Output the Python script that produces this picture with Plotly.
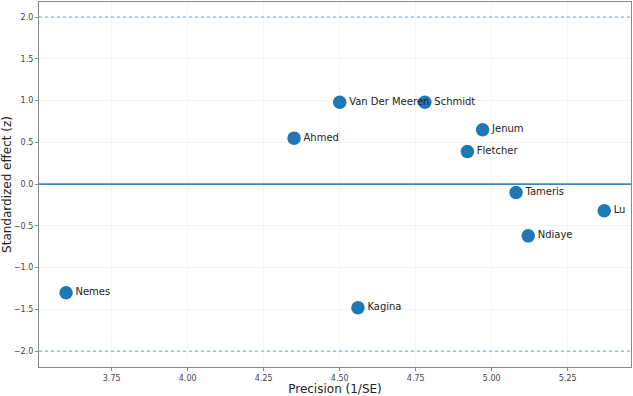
import plotly.graph_objects as go

studies = ["Nemes", "Ahmed", "Van Der Meeren", "Schmidt", "Jenum", "Fletcher",
           "Tameris", "Lu", "Ndiaye", "Kagina"]
precision = [3.60, 4.35, 4.50, 4.78, 4.97, 4.92, 5.08, 5.37, 5.12, 4.56]
z_effect = [-1.30, 0.55, 0.98, 0.98, 0.65, 0.39, -0.10, -0.32, -0.62, -1.48]
x_ticks = [3.75, 4.00, 4.25, 4.50, 4.75, 5.00, 5.25]
y_ticks = [-2.0, -1.5, -1.0, -0.5, 0.0, 0.5, 1.0, 1.5, 2.0]
x_range = [3.511, 5.458]
y_range = [-2.19, 2.18]

fig = go.Figure()
fig.add_hline(y=0, line=dict(color="#3a88c9", width=1.8))
fig.add_hline(y=2, line=dict(color="#5dade2", width=1, dash="dot"))
fig.add_hline(y=-2, line=dict(color="#5dade2", width=1, dash="dot"))
fig.add_trace(go.Scatter(
    x=precision, y=z_effect, mode="markers+text", text=studies,
    textposition="middle right",
    textfont=dict(family="DejaVu Sans", size=10, color="#222222"),
    marker=dict(size=13.5, color="#1f77b4", line=dict(width=0)),
    showlegend=False, cliponaxis=False,
))

axis_common = dict(
    showline=True, linecolor="#888888", linewidth=1.2, mirror=True,
    showgrid=True, gridcolor="#f5f5f5", gridwidth=1, zeroline=False,
    ticks="outside", ticklen=3, tickcolor="#888888",
    tickfont=dict(family="DejaVu Sans", size=8, color="#444444"),
)
fig.update_xaxes(range=x_range, tickvals=x_ticks,
                 ticktext=[f"{v:.2f}" for v in x_ticks],
                 title=dict(text="Precision (1/SE)", font=dict(family="DejaVu Sans", size=12, color="#222222"), standoff=4),
                 **axis_common)
fig.update_yaxes(range=y_range, tickvals=y_ticks,
                 ticktext=[f"{v:.1f}".replace("-", "\u2212") for v in y_ticks],
                 title=dict(text="Standardized effect (z)", font=dict(family="DejaVu Sans", size=12, color="#222222"), standoff=4),
                 **axis_common)
fig.update_layout(
    width=633, height=396,
    margin=dict(l=37, r=1, t=2, b=27),
    plot_bgcolor="white", paper_bgcolor="white",
)
fig.write_html("out.html")
